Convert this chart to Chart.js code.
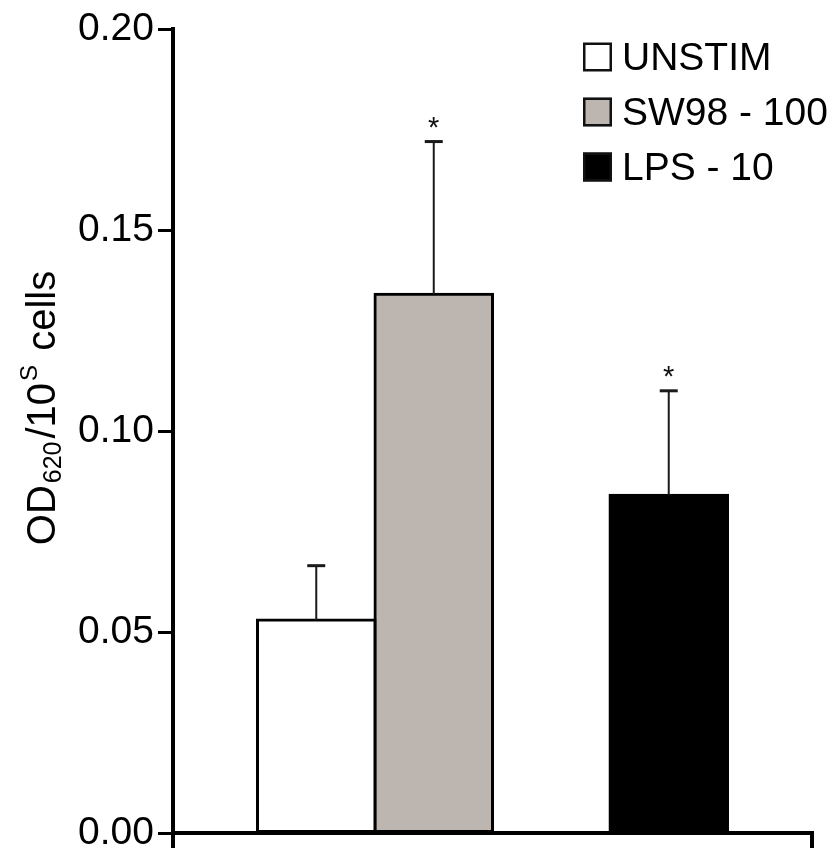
<!DOCTYPE html>
<html>
<head>
<meta charset="utf-8">
<script src="https://cdn.jsdelivr.net/npm/chart.js@4/dist/chart.umd.min.js"></script>
<style>
  html, body { margin: 0; padding: 0; background: #ffffff; }
  #wrap { width: 834px; height: 848px; }
</style>
</head>
<body>
<div id="wrap"><canvas id="c" width="834" height="848"></canvas></div>
<script>
// ---- data ----
const categories = [''];
const seriesLabels = ['UNSTIM', 'SW98 - 100', 'LPS - 10'];
const means = [0.053, 0.134, 0.084];
const errors = [0.0135, 0.038, 0.026];
const significant = [false, true, true];
const yTicks = [0.00, 0.05, 0.10, 0.15, 0.20];
const seriesColors = ['#ffffff', '#bdb5b0', '#000000'];

const FONT = "'Liberation Sans', Arial, Helvetica, sans-serif";

// Build datasets (an empty slot sits between SW98 and LPS in the group)
const datasets = [];
seriesLabels.forEach((lab, i) => {
  if (i === 2) {
    datasets.push({ label: '', data: [null], isGap: true, backgroundColor: 'rgba(0,0,0,0)', borderWidth: 0 });
  }
  datasets.push({
    label: lab,
    data: [means[i]],
    seriesIndex: i,
    backgroundColor: seriesColors[i],
    borderColor: '#000000',
    borderWidth: 3,
    borderSkipped: false,
    inflateAmount: 1.5
  });
});

const errorBarPlugin = {
  id: 'errorBars',
  afterDatasetsDraw(chart) {
    const ctx = chart.ctx;
    const yScale = chart.scales.y;
    chart.data.datasets.forEach((ds, di) => {
      if (ds.isGap) return;
      const si = ds.seriesIndex;
      const meta = chart.getDatasetMeta(di);
      const bar = meta.data[0];
      if (!bar) return;
      const x = bar.x;
      const yBar = bar.y;
      const yErr = yScale.getPixelForValue(means[si] + errors[si]);
      ctx.save();
      ctx.strokeStyle = '#1a1a1a';
      ctx.lineWidth = 2;
      ctx.beginPath();
      ctx.moveTo(x, yBar);
      ctx.lineTo(x, yErr);
      ctx.stroke();
      ctx.lineWidth = 3;
      ctx.beginPath();
      ctx.moveTo(x - 9, yErr);
      ctx.lineTo(x + 9, yErr);
      ctx.stroke();
      if (significant[si]) {
        ctx.fillStyle = '#111111';
        ctx.font = '29px ' + FONT;
        ctx.textAlign = 'center';
        ctx.textBaseline = 'alphabetic';
        ctx.fillText('*', x, yErr - 21 + 16);
      }
      ctx.restore();
    });
  }
};

const legendPlugin = {
  id: 'customLegend',
  afterDraw(chart) {
    const ctx = chart.ctx;
    const items = chart.data.datasets.filter(d => !d.isGap);
    const boxX = 583, box = 29, textX = 622, firstY = 57, rowGap = 55;
    ctx.save();
    items.forEach((ds, k) => {
      const cy = firstY + k * rowGap;
      ctx.fillStyle = ds.backgroundColor;
      ctx.fillRect(boxX, cy - box / 2, box, box);
      ctx.strokeStyle = '#111111';
      ctx.lineWidth = 2.5;
      ctx.strokeRect(boxX + 1.25, cy - box / 2 + 1.25, box - 2.5, box - 2.5);
      ctx.fillStyle = '#000000';
      ctx.font = '39px ' + FONT;
      ctx.textAlign = 'left';
      ctx.textBaseline = 'middle';
      ctx.fillText(ds.label, textX, cy + 2);
    });
    ctx.restore();
  }
};

const yTitlePlugin = {
  id: 'yTitle',
  afterDraw(chart) {
    const ctx = chart.ctx;
    const segs = [
      { t: 'OD', size: 40, dy: 0, gap: 2 },
      { t: '620', size: 25, dy: 6, gap: 3 },
      { t: '/10', size: 40, dy: 0, gap: 2 },
      { t: 'S', size: 24, dy: -18, gap: 3 },
      { t: ' cells', size: 40, dy: 0, gap: 0 }
    ];
    ctx.save();
    let total = 0;
    segs.forEach(s => { ctx.font = s.size + 'px ' + FONT; s.w = ctx.measureText(s.t).width; total += s.w + s.gap; });
    ctx.translate(55, 408);
    ctx.rotate(-Math.PI / 2);
    ctx.fillStyle = '#000000';
    ctx.textAlign = 'left';
    ctx.textBaseline = 'alphabetic';
    let x = -total / 2;
    segs.forEach(s => {
      ctx.font = s.size + 'px ' + FONT;
      ctx.fillText(s.t, x, s.dy);
      x += s.w + s.gap;
    });
    ctx.restore();
  }
};

new Chart(document.getElementById('c'), {
  type: 'bar',
  data: { labels: categories, datasets: datasets },
  options: {
    responsive: false,
    animation: false,
    events: [],
    layout: { padding: { top: 29, right: 22, bottom: 0, left: 0 } },
    datasets: { bar: { categoryPercentage: 0.7355, barPercentage: 1.0 } },
    plugins: { legend: { display: false }, tooltip: { enabled: false }, title: { display: false } },
    scales: {
      x: {
        type: 'category',
        offset: true,
        grid: { display: true, offset: true, drawOnChartArea: false, drawTicks: true, tickLength: 15, color: '#000000', lineWidth: 4 },
        border: { display: true, color: '#000000', width: 4 },
        ticks: { display: false }
      },
      y: {
        min: 0,
        max: 0.2,
        afterBuildTicks(scale) { scale.ticks = yTicks.map(v => ({ value: v })); },
        afterFit(scale) { scale.width = 173; scale.paddingTop = 0; scale.paddingBottom = 0; },
        grid: { display: true, drawOnChartArea: false, drawTicks: true, tickLength: 15, color: '#000000', lineWidth: 3 },
        border: { display: true, color: '#000000', width: 4 },
        ticks: {
          padding: 4,
          color: '#000000',
          font: { family: FONT, size: 39 },
          callback: (v) => Number(v).toFixed(2)
        }
      }
    }
  },
  plugins: [errorBarPlugin, legendPlugin, yTitlePlugin]
});
</script>
</body>
</html>
